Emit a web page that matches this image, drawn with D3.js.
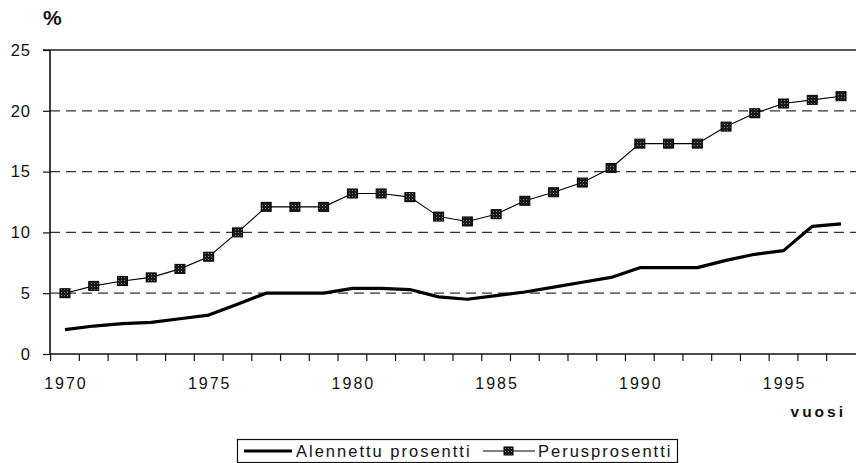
<!DOCTYPE html>
<html>
<head>
<meta charset="utf-8">
<script src="https://cdn.jsdelivr.net/npm/d3@7"></script>
<style>
  body { margin: 0; background: #fff; }
  svg { display: block; font-family: "Liberation Sans", Arial, sans-serif; }
</style>
</head>
<body>
<div id="chart"></div>
<script>
const years = d3.range(1970, 1998);
const alennettu = [2.0, 2.3, 2.5, 2.6, 2.9, 3.2, 4.1, 5.0, 5.0, 5.0, 5.4, 5.4, 5.3, 4.7, 4.5, 4.8, 5.1, 5.5, 5.9, 6.3, 7.1, 7.1, 7.1, 7.7, 8.2, 8.5, 10.5, 10.7];
const perus = [5.0, 5.6, 6.0, 6.3, 7.0, 8.0, 10.0, 12.1, 12.1, 12.1, 13.2, 13.2, 12.9, 11.3, 10.9, 11.5, 12.6, 13.3, 14.1, 15.3, 17.3, 17.3, 17.3, 18.7, 19.8, 20.6, 20.9, 21.2];
const yTicks = [0, 5, 10, 15, 20, 25];
const xLabelYears = [1970, 1975, 1980, 1985, 1990, 1995];

const width = 856, height = 463;
const svg = d3.select("#chart").append("svg").attr("width", width).attr("height", height);

const x = d3.scaleBand().domain(years).range([50.6, 855.4]);
const y = d3.scaleLinear().domain([0, 25]).range([354, 50]);

// dashed grid
svg.append("g").selectAll("line").data([5, 10, 15, 20]).join("line")
    .attr("x1", 50).attr("x2", 856)
    .attr("y1", d => y(d)).attr("y2", d => y(d))
    .attr("stroke", "#333").attr("stroke-width", 1.2)
    .attr("stroke-dasharray", "10,6");

// top border
svg.append("line").attr("x1", 43).attr("x2", 856).attr("y1", y(25)).attr("y2", y(25))
    .attr("stroke", "#222").attr("stroke-width", 1.3);

// y axis
const yAxis = svg.append("g").attr("transform", "translate(50,0)")
    .call(d3.axisLeft(y).tickValues(yTicks).tickSize(7).tickPadding(12));
yAxis.select(".domain").remove();
yAxis.selectAll(".tick line").attr("stroke", "#111").attr("stroke-width", 1.2);
yAxis.selectAll("text").attr("font-size", 16.5).attr("fill", "#111")
    .attr("font-family", "Liberation Sans, Arial, sans-serif").style("letter-spacing", "1px");
svg.append("line").attr("x1", 50).attr("x2", 50).attr("y1", y(25)).attr("y2", y(0))
    .attr("stroke", "#111").attr("stroke-width", 1.6);

// x axis: ticks on band edges, labels every fifth year
const xAxis = svg.append("g").attr("transform", "translate(0," + y(0) + ")");
xAxis.append("line").attr("x1", 50).attr("x2", 856).attr("y1", 0).attr("y2", 0)
    .attr("stroke", "#111").attr("stroke-width", 1.6);
xAxis.selectAll("line.tk").data(years).join("line").attr("class", "tk")
    .attr("x1", d => x(d)).attr("x2", d => x(d)).attr("y1", 0).attr("y2", 7)
    .attr("stroke", "#111").attr("stroke-width", 1.2);
xAxis.selectAll("text").data(xLabelYears).join("text")
    .attr("x", d => x(d) + x.bandwidth() / 2 + 1)
    .attr("y", 35)
    .attr("text-anchor", "middle")
    .attr("font-size", 16).attr("fill", "#111")
    .style("letter-spacing", "2px")
    .text(d => d);

// titles
svg.append("text").attr("x", 43).attr("y", 25).attr("font-size", 21).attr("font-weight", "bold")
    .attr("fill", "#111").text("%");
svg.append("text").attr("x", 846).attr("y", 417).attr("text-anchor", "end")
    .attr("font-size", 15.5).attr("font-weight", "bold").attr("fill", "#111")
    .style("letter-spacing", "3px").text("vuosi");

const cx = d => x(d) + x.bandwidth() / 2;

// Alennettu prosentti
const lineA = d3.line().x((d, i) => cx(years[i])).y(d => y(d));
svg.append("path").datum(alennettu).attr("d", lineA)
    .attr("fill", "none").attr("stroke", "#000").attr("stroke-width", 3.2)
    .attr("stroke-linejoin", "round");

// Perusprosentti
svg.append("path").datum(perus).attr("d", lineA)
    .attr("fill", "none").attr("stroke", "#000").attr("stroke-width", 1.1);

const defs = svg.append("defs");
const pat = defs.append("pattern").attr("id", "speck").attr("width", 3).attr("height", 3)
    .attr("patternUnits", "userSpaceOnUse");
pat.append("rect").attr("width", 3).attr("height", 3).attr("fill", "#1a1a1a");
pat.append("rect").attr("x", 1).attr("y", 1).attr("width", 1).attr("height", 1).attr("fill", "#888");

svg.append("g").selectAll("rect").data(perus).join("rect")
    .attr("x", (d, i) => cx(years[i]) - 5)
    .attr("y", d => y(d) - 4.5)
    .attr("width", 10).attr("height", 9)
    .attr("fill", "url(#speck)").attr("stroke", "#000").attr("stroke-width", 1);

// legend
const lg = svg.append("g");
lg.append("rect").attr("x", 237.5).attr("y", 439.5).attr("width", 440).attr("height", 23)
    .attr("fill", "#fff").attr("stroke", "#111").attr("stroke-width", 1.2);
lg.append("line").attr("x1", 244).attr("x2", 292).attr("y1", 451).attr("y2", 451)
    .attr("stroke", "#000").attr("stroke-width", 3);
lg.append("text").attr("x", 296).attr("y", 457).attr("font-size", 16.5).attr("fill", "#111")
    .style("letter-spacing", "2px").text("Alennettu prosentti");
lg.append("line").attr("x1", 483).attr("x2", 535).attr("y1", 451).attr("y2", 451)
    .attr("stroke", "#000").attr("stroke-width", 1.1);
lg.append("rect").attr("x", 504).attr("y", 447).attr("width", 9).attr("height", 8)
    .attr("fill", "url(#speck)").attr("stroke", "#000");
lg.append("text").attr("x", 538).attr("y", 457).attr("font-size", 16.5).attr("fill", "#111")
    .style("letter-spacing", "2px").text("Perusprosentti");
</script>
</body>
</html>
